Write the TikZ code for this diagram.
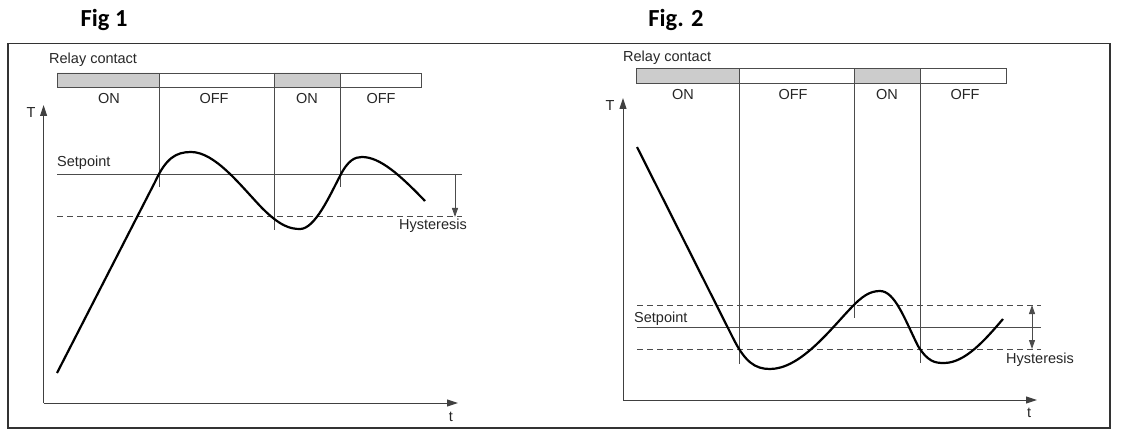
\documentclass[tikz,border=0pt]{standalone}
\usepackage{fontspec}
\setmainfont{Liberation Sans}
\newfontfamily\titlefont{Carlito}
\usetikzlibrary{arrows.meta}
\begin{document}
\begin{tikzpicture}[x=1pt,y=-1pt,
  lbl/.style={inner sep=0pt,font=\fontsize{14.5}{16}\selectfont,text=black!85},
  ttl/.style={inner sep=0pt,font=\titlefont\bfseries\fontsize{24.5}{28}\selectfont},
  thinln/.style={draw=black!70,line width=0.9pt},
  curve/.style={line width=2.2pt,line join=round},
  dashln/.style={draw=black!70,line width=1pt,dash pattern=on 6pt off 4pt},
  ax/.style={draw=black!75,line width=1pt,-{Triangle[length=11pt,width=7pt]}}]
\useasboundingbox (0,0) rectangle (1123,435);
\draw[black!80,line width=1.3pt] (8,43.5) rectangle (1110,428);
% ---------- Fig 1
\node[ttl] (f1) at (104,20) {Fig 1};
\node[lbl,anchor=west] (rc1) at (49,60) {Relay contact};
\fill[black!20] (57,73) rectangle (159,87.5) (274,73) rectangle (340,87.5);
\draw[thinln] (57,73) rectangle (421,87.5);
\draw[thinln] (159,73) -- (159,187) (274,73) -- (274,230) (340,73) -- (340,187);
\node[lbl] (a1) at (109,99) {ON};
\node[lbl] (a2) at (214,99) {OFF};
\node[lbl] (a3) at (307,99) {ON};
\node[lbl] (a4) at (381,99) {OFF};
\coordinate (o1) at (43.6,403);
\coordinate (ty1) at (43.6,105);
\coordinate (tx1) at (458,403);
\draw[ax] (o1) -- (ty1);
\draw[ax] (o1) -- (tx1);
\node[lbl] (T1) at (31,113) {T};
\node[lbl] (t1) at (451,417) {t};
\draw[thinln] (57,174) -- (462,174);
\node[lbl,anchor=south west] (sp1) at (57,170) {Setpoint};
\draw[dashln] (57,217) -- (462,217);
\coordinate (h1a) at (455,174);
\coordinate (h1b) at (455,217);
\draw[thinln,-{Triangle[length=9pt,width=6pt]}] (h1a) -- (h1b);
\node[lbl] (hy1) at (433,226) {Hysteresis};
\draw[curve] (57,373) -- (155,182) .. controls (166,158) and (176,152) .. (191,152)
  .. controls (215,152) and (240,185) .. (262,208)
  .. controls (280,226) and (290,229) .. (300,229)
  .. controls (315,229) and (330,195) .. (340,176)
  .. controls (348,160) and (355,157) .. (362,157)
  .. controls (380,157) and (400,175) .. (425,201);
% ---------- Fig 2
\node[ttl] (f2) at (676,20) {Fig. 2};
\node[lbl,anchor=west] (rc2) at (623,58) {Relay contact};
\fill[black!20] (636,68.5) rectangle (739,83) (854,68.5) rectangle (920,83);
\draw[thinln] (636,68.5) rectangle (1006,83);
\draw[thinln] (739,68.5) -- (739,364) (854,68.5) -- (854,318) (920,68.5) -- (920,363);
\node[lbl] (b1) at (683,95) {ON};
\node[lbl] (b2) at (793,95) {OFF};
\node[lbl] (b3) at (887,95) {ON};
\node[lbl] (b4) at (965,95) {OFF};
\coordinate (o2) at (623,400);
\coordinate (ty2) at (623,98);
\coordinate (tx2) at (1037,400);
\draw[ax] (o2) -- (ty2);
\draw[ax] (o2) -- (tx2);
\node[lbl] (T2) at (610,106) {T};
\node[lbl] (t2) at (1029,413) {t};
\draw[dashln] (637,305) -- (1041,305);
\draw[thinln] (637,327) -- (1041,327);
\draw[dashln] (637,349) -- (1041,349);
\node[lbl,anchor=south west] (sp2) at (634,326) {Setpoint};
\coordinate (h2a) at (1032,305);
\coordinate (h2b) at (1032,349);
\coordinate (h2m) at (1032,327);
\draw[thinln,-{Triangle[length=9pt,width=6pt]}] (h2m) -- (h2a);
\draw[thinln,-{Triangle[length=9pt,width=6pt]}] (h2m) -- (h2b);
\node[lbl,anchor=west] (hy2) at (1006,360) {Hysteresis};
\draw[curve] (637,147) -- (733,338) .. controls (745,362) and (755,369) .. (770,369)
  .. controls (800,369) and (830,330) .. (850,309)
  .. controls (862,296) and (870,291) .. (880,291)
  .. controls (895,291) and (905,320) .. (918,346)
  .. controls (928,362) and (935,363) .. (944,363)
  .. controls (965,363) and (985,340) .. (1003,319);
\end{tikzpicture}
\end{document}
